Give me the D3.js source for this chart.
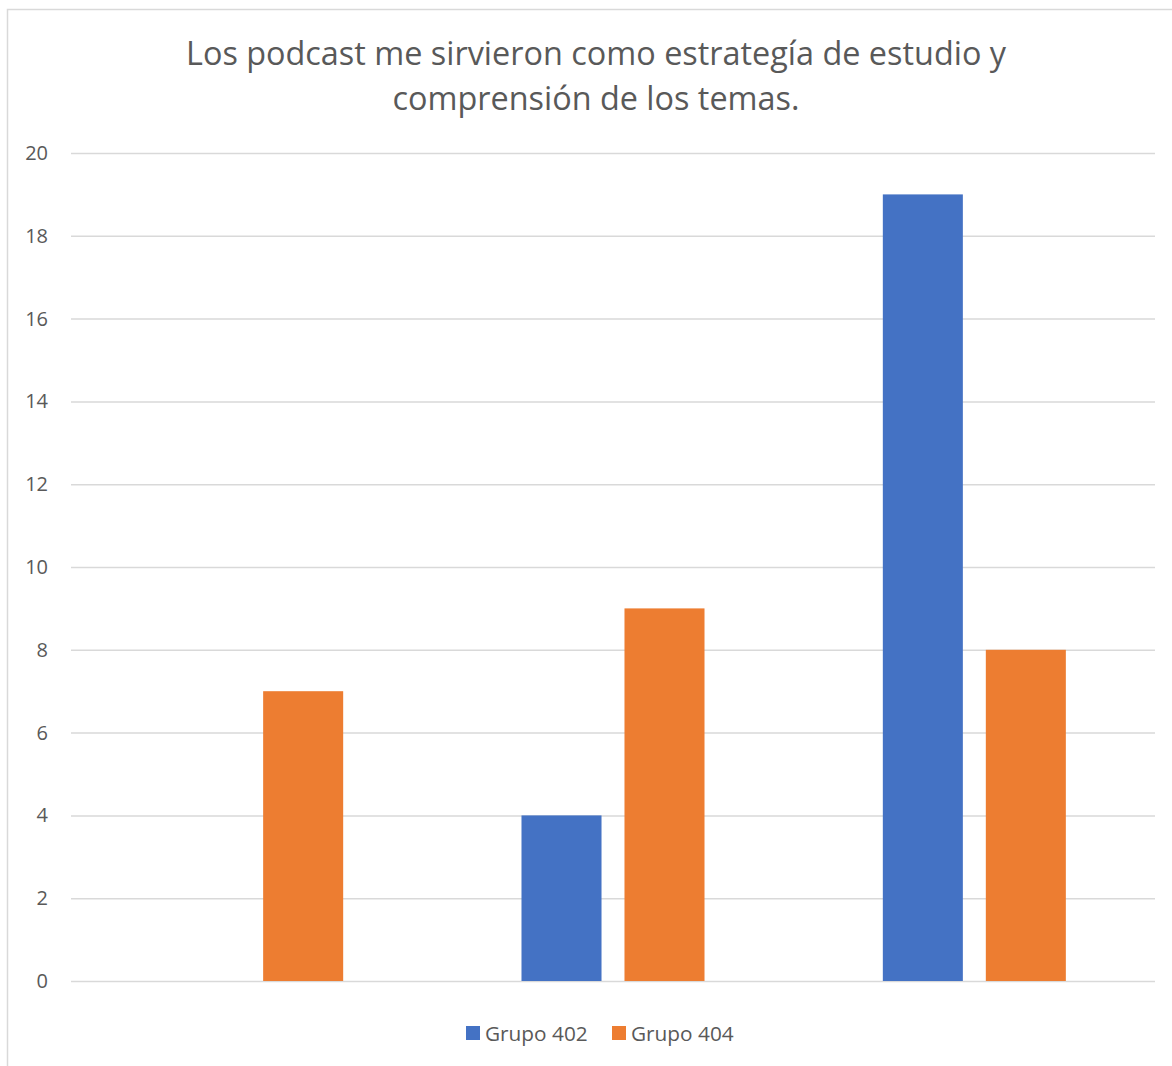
<!DOCTYPE html>
<html><head><meta charset="utf-8">
<script src="https://cdn.jsdelivr.net/npm/d3@7"></script>
<style>body{margin:0;background:#fff}svg{display:block}</style>
</head><body>
<svg id="c" width="1172" height="1066"></svg>
<script>
const categories = ["A", "B", "C"];
const seriesNames = ["Grupo 402", "Grupo 404"];
const grupo402 = [0, 4, 19];
const grupo404 = [7, 9, 8];
const yTicks = [0, 2, 4, 6, 8, 10, 12, 14, 16, 18, 20];
const titleLines = ["Los podcast me sirvieron como estrategía de estudio y", "comprensión de los temas."];
const colors = ["#4472C4", "#ED7D31"];

(function () {
const svg = d3.select("#c");
const font = "'Open Sans', 'Liberation Sans', sans-serif";
const textColor = "#595959";

svg.append("rect").attr("x", 7.5).attr("y", 9.5).attr("width", 1200).attr("height", 1100)
  .attr("fill", "#fff").attr("stroke", "#d9d9d9").attr("stroke-width", 1.5);

const pLeft = 71, pRight = 1155, pTop = 153, pBottom = 981;
const y = d3.scaleLinear().domain([0, 20]).range([pBottom, pTop]);
const x0 = d3.scaleBand().domain(categories).range([pLeft, pRight]).paddingInner(0.4935).paddingOuter(0.4935 / 2);
const x1 = d3.scaleBand().domain(seriesNames).range([0, x0.bandwidth()]).paddingInner(0.223);

const yAxis = d3.axisLeft(y).tickValues(yTicks).tickSize(-(pRight - pLeft)).tickPadding(23);
const g = svg.append("g").attr("transform", `translate(${pLeft},0)`).call(yAxis);
g.select(".domain").remove();
g.selectAll(".tick line").attr("stroke", "#d9d9d9").attr("stroke-width", 1.5);
g.selectAll(".tick text").attr("fill", textColor).attr("font-family", font).attr("font-size", 20);

const data = categories.map((c, i) => ({ c, vals: [grupo402[i], grupo404[i]] }));
svg.append("g").selectAll("g").data(data).join("g")
  .attr("transform", d => `translate(${x0(d.c)},0)`)
  .selectAll("rect").data(d => d.vals.map((v, j) => ({ s: seriesNames[j], v, j })))
  .join("rect")
  .attr("x", d => x1(d.s))
  .attr("width", x1.bandwidth())
  .attr("y", d => y(d.v))
  .attr("height", d => y(0) - y(d.v))
  .attr("fill", d => colors[d.j]);

svg.append("g").selectAll("text").data(titleLines).join("text")
  .attr("x", 596).attr("y", (d, i) => 65 + i * 45)
  .attr("text-anchor", "middle").attr("fill", textColor)
  .attr("font-family", font).attr("font-size", 32.4).text(d => d);

const legendX = [466, 612];
const lg = svg.append("g").selectAll("g").data(seriesNames).join("g")
  .attr("transform", (d, i) => `translate(${legendX[i]},1026)`);
lg.append("rect").attr("width", 14).attr("height", 14).attr("fill", (d, i) => colors[i]);
lg.append("text").attr("x", 19).attr("y", 14.5).attr("fill", textColor)
  .attr("font-family", font).attr("font-size", 20.8).text(d => d);
})();
</script>
</body></html>
